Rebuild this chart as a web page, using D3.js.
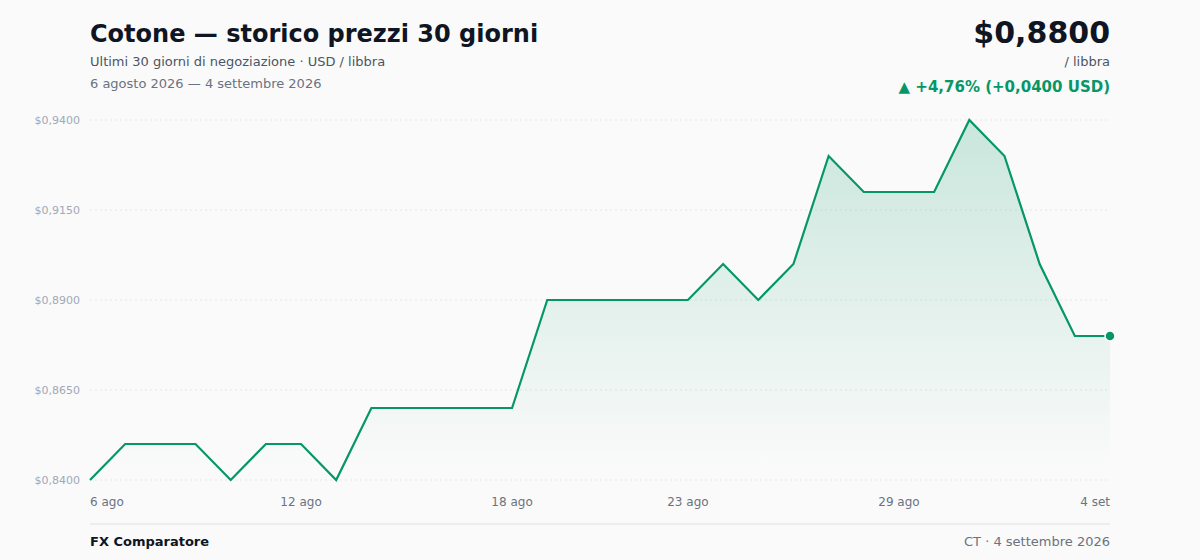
<!DOCTYPE html>
<html><head><meta charset="utf-8">
<script src="https://cdn.jsdelivr.net/npm/d3@7"></script>
<style>
html,body{margin:0;padding:0;background:#fafafa;}
svg{display:block;font-family:"DejaVu Sans",sans-serif;}
</style></head>
<body>
<svg id="c" width="1200" height="560"></svg>
<script>
const dates = ["6 ago","7 ago","8 ago","9 ago","10 ago","11 ago","12 ago","13 ago","14 ago","15 ago","16 ago","17 ago","18 ago","19 ago","20 ago","21 ago","22 ago","23 ago","24 ago","25 ago","26 ago","27 ago","28 ago","29 ago","30 ago","31 ago","1 set","2 set","3 set","4 set"];
const prices = [0.840,0.850,0.850,0.850,0.840,0.850,0.850,0.840,0.860,0.860,0.860,0.860,0.860,0.890,0.890,0.890,0.890,0.890,0.900,0.890,0.900,0.930,0.920,0.920,0.920,0.940,0.930,0.900,0.880,0.880];
const yTicks = [0.84,0.865,0.89,0.915,0.94];
const xTickLabels = ["6 ago","12 ago","18 ago","23 ago","29 ago","4 set"];

const svg = d3.select("#c");
const L=90,R=1110,T=120,B=480;
const fmt = v => "$" + v.toFixed(4).replace(".", ",");
const x = d3.scalePoint().domain(dates).range([L,R]);
const y = d3.scaleLinear().domain([0.84,0.94]).range([B,T]);
const green = "#069668";

const defs = svg.append("defs");
const g = defs.append("linearGradient").attr("id","ag")
  .attr("gradientUnits","userSpaceOnUse").attr("x1",0).attr("x2",0).attr("y1",T).attr("y2",B-12);
g.append("stop").attr("offset","0%").attr("stop-color",green).attr("stop-opacity",0.2);
g.append("stop").attr("offset","100%").attr("stop-color",green).attr("stop-opacity",0.0);

// grid
svg.append("g").selectAll("line").data(yTicks).join("line")
  .attr("x1",L).attr("x2",R).attr("y1",d=>y(d)).attr("y2",d=>y(d))
  .attr("stroke","#e3e6ea").attr("stroke-width",1).attr("stroke-dasharray","2,3");
svg.append("g").selectAll("text").data(yTicks).join("text")
  .attr("x",80).attr("y",d=>y(d)+4).attr("text-anchor","end")
  .attr("font-size",11).attr("fill","#a0a8b8").text(fmt);

const data = dates.map((d,i)=>({d,v:prices[i]}));
svg.append("path").datum(data)
  .attr("d", d3.area().x(p=>x(p.d)).y0(B).y1(p=>y(p.v)))
  .attr("fill","url(#ag)");
svg.append("path").datum(data)
  .attr("d", d3.line().x(p=>x(p.d)).y(p=>y(p.v)))
  .attr("fill","none").attr("stroke",green).attr("stroke-width",2.2).attr("stroke-linejoin","miter");
const last = data[data.length-1];
svg.append("circle").attr("cx",x(last.d)).attr("cy",y(last.v)).attr("r",5)
  .attr("fill",green).attr("stroke","#fff").attr("stroke-width",1.5);

// x ticks
svg.append("g").selectAll("text").data(xTickLabels).join("text")
  .attr("x",d=>x(d)).attr("y",506)
  .attr("text-anchor",(d,i)=>i===0?"start":(i===xTickLabels.length-1?"end":"middle"))
  .attr("font-size",12).attr("fill","#6b7280").text(d=>d);

// header
svg.append("text").attr("x",90).attr("y",42).attr("font-size",24).attr("font-weight","bold").attr("fill","#0f1523")
  .text("Cotone — storico prezzi 30 giorni");
svg.append("text").attr("x",90).attr("y",66).attr("font-size",13).attr("fill","#4b5563")
  .text("Ultimi 30 giorni di negoziazione · USD / libbra");
svg.append("text").attr("x",90).attr("y",88).attr("font-size",13).attr("fill","#6b7280")
  .text("6 agosto 2026 — 4 settembre 2026");
svg.append("text").attr("x",1110).attr("y",43).attr("text-anchor","end").attr("font-size",30).attr("font-weight","bold").attr("fill","#0f1523")
  .text(fmt(prices[prices.length-1]));
svg.append("text").attr("x",1110).attr("y",66).attr("text-anchor","end").attr("font-size",13).attr("fill","#4b5563")
  .text("/ libbra");
const chg = prices[prices.length-1]-prices[0];
const pct = chg/prices[0]*100;
svg.append("text").attr("x",1110).attr("y",92).attr("text-anchor","end").attr("font-size",15).attr("font-weight","bold").attr("fill",green)
  .text("▲ +" + pct.toFixed(2).replace(".",",") + "% (+" + chg.toFixed(4).replace(".",",") + " USD)");

// footer
svg.append("line").attr("x1",90).attr("x2",1110).attr("y1",524).attr("y2",524).attr("stroke","#e8e9ec").attr("stroke-width",1.5);
svg.append("text").attr("x",90).attr("y",546).attr("font-size",13).attr("font-weight","bold").attr("fill","#0f1523").text("FX Comparatore");
svg.append("text").attr("x",1110).attr("y",546).attr("text-anchor","end").attr("font-size",13).attr("fill","#6b7280").text("CT · 4 settembre 2026");
</script>
</body></html>
